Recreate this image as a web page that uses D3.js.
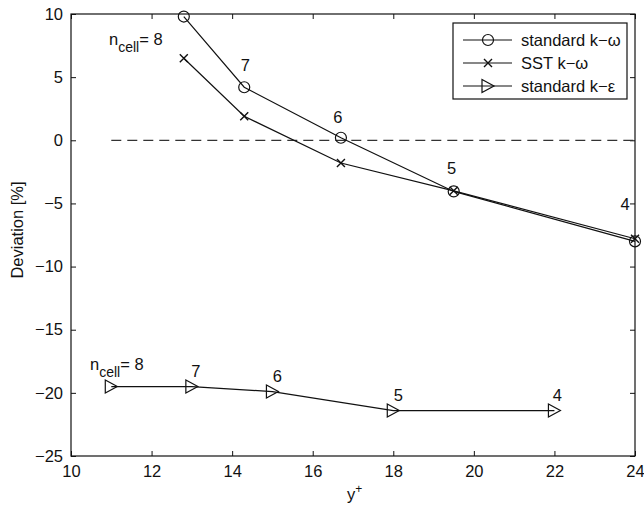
<!DOCTYPE html>
<html>
<head>
<meta charset="utf-8">
<script src="https://cdn.jsdelivr.net/npm/d3@7"></script>
<style>
body { margin: 0; background: #fff; }
text { font-family: "Liberation Sans", Arial, sans-serif; fill: #111; }
</style>
</head>
<body>
<div id="canvas"></div>
<script>
const width = 644;
const height = 509;
const fs = 16.5;

// data
const yPlus = [12.8, 14.3, 16.7, 19.5, 24];
const stdKw = [9.8, 4.2, 0.2, -4.05, -8.0];
const sstKw = [6.5, 1.9, -1.8, -4.0, -7.8];
const yPlusKe = [11, 13, 15, 18, 22];
const stdKe = [-19.5, -19.5, -19.9, -21.4, -21.4];
const nCell = [8, 7, 6, 5, 4];
const xTicks = [10, 12, 14, 16, 18, 20, 22, 24];
const yTicks = [10, 5, 0, -5, -10, -15, -20, -25];
const seriesNames = ['standard k\u2212\u03c9', 'SST k\u2212\u03c9', 'standard k\u2212\u03b5'];

const svg = d3.select('#canvas').append('svg')
  .attr('width', width)
  .attr('height', height)

const x = d3.scaleLinear().domain([10, 24]).range([71, 635]);
const y = d3.scaleLinear().domain([-25, 10]).range([456, 14]);

// frame
svg.append('rect')
  .attr('x', x(10)).attr('y', y(10))
  .attr('width', x(24) - x(10)).attr('height', y(-25) - y(10))
  .attr('fill', 'none').attr('stroke', '#111').attr('stroke-width', 1.2);

// axes with inward ticks
const fmt = d => d < 0 ? '\u2212' + Math.abs(d) : d;
const axB = svg.append('g').attr('transform', `translate(0,${y(-25)})`)
  .call(d3.axisBottom(x).tickValues(xTicks).tickSize(-5).tickPadding(9).tickFormat(fmt));
const axT = svg.append('g').attr('transform', `translate(0,${y(10)})`)
  .call(d3.axisTop(x).tickValues(xTicks).tickSize(-5).tickFormat(''));
const axL = svg.append('g').attr('transform', `translate(${x(10)},0)`)
  .call(d3.axisLeft(y).tickValues(yTicks).tickSize(-5).tickPadding(8).tickFormat(fmt));
const axR = svg.append('g').attr('transform', `translate(${x(24)},0)`)
  .call(d3.axisRight(y).tickValues(yTicks).tickSize(-5).tickFormat(''));

[axB, axT, axL, axR].forEach(g => {
  g.select('.domain').remove();
  g.selectAll('line').attr('stroke', '#111');
  g.selectAll('text').attr('font-size', fs).attr('font-family', '"Liberation Sans", Arial, sans-serif').attr('fill', '#111');
});

// zero reference line
svg.append('line')
  .attr('x1', x(11)).attr('x2', x(24))
  .attr('y1', y(0)).attr('y2', y(0))
  .attr('stroke', '#333').attr('stroke-width', 1.2).attr('stroke-dasharray', '10,6');

const line = d3.line().x(d => x(d[0])).y(d => y(d[1]));
const s1 = yPlus.map((v, i) => [v, stdKw[i]]);
const s2 = yPlus.map((v, i) => [v, sstKw[i]]);
const s3 = yPlusKe.map((v, i) => [v, stdKe[i]]);

[s1, s2, s3].forEach(s => {
  svg.append('path').attr('d', line(s))
    .attr('fill', 'none').attr('stroke', '#111').attr('stroke-width', 1.2);
});

function circleMark(g, cx, cy) {
  g.append('circle').attr('cx', cx).attr('cy', cy).attr('r', 5.5)
    .attr('fill', 'none').attr('stroke', '#111').attr('stroke-width', 1.2);
}
function crossMark(g, cx, cy) {
  const r = 4;
  g.append('path').attr('d', `M${cx - r},${cy - r}L${cx + r},${cy + r}M${cx - r},${cy + r}L${cx + r},${cy - r}`)
    .attr('stroke', '#111').attr('stroke-width', 1.4);
}
function triMark(g, cx, cy) {
  g.append('path').attr('d', `M${cx - 6},${cy - 6.5}L${cx + 6},${cy}L${cx - 6},${cy + 6.5}Z`)
    .attr('fill', 'none').attr('stroke', '#111').attr('stroke-width', 1.2);
}

s1.forEach(d => circleMark(svg, x(d[0]), y(d[1])));
s2.forEach(d => crossMark(svg, x(d[0]), y(d[1])));
s3.forEach(d => triMark(svg, x(d[0]), y(d[1])));

// n_cell labels
function nLabel(px, py, n, withName) {
  const t = svg.append('text').attr('x', px).attr('y', py).attr('font-size', fs)
    .attr('text-anchor', withName ? 'start' : 'middle');
  if (withName) {
    t.append('tspan').text('n');
    t.append('tspan').attr('dy', 7).attr('font-size', 14).text('cell');
    t.append('tspan').attr('dy', -7).text('= ' + n);
  } else {
    t.text(n);
  }
}
nLabel(109, 45, nCell[0], true);
nLabel(x(yPlus[1]) + 1, y(stdKw[1]) - 16, nCell[1]);
nLabel(x(yPlus[2]) - 3, y(stdKw[2]) - 15, nCell[2]);
nLabel(x(yPlus[3]) - 2, y(stdKw[3]) - 17, nCell[3]);
nLabel(x(yPlus[4]) - 10, y(stdKw[4]) - 31, nCell[4]);

nLabel(90, 370, nCell[0], true);
nLabel(x(yPlusKe[1]) + 4, y(stdKe[1]) - 10, nCell[1]);
nLabel(x(yPlusKe[2]) + 5, y(stdKe[2]) - 10, nCell[2]);
nLabel(x(yPlusKe[3]) + 5, y(stdKe[3]) - 10, nCell[3]);
nLabel(x(yPlusKe[4]) + 3, y(stdKe[4]) - 10, nCell[4]);

// legend
const lg = svg.append('g');
lg.append('rect').attr('x', 453).attr('y', 23).attr('width', 174).attr('height', 76)
  .attr('fill', '#fff').attr('stroke', '#111').attr('stroke-width', 1.2);
const marks = [circleMark, crossMark, triMark];
seriesNames.forEach((name, i) => {
  const cy = 40 + i * 23;
  lg.append('line').attr('x1', 463).attr('x2', 512).attr('y1', cy).attr('y2', cy)
    .attr('stroke', '#111').attr('stroke-width', 1.2);
  marks[i](lg, 488, cy);
  lg.append('text').attr('x', 521).attr('y', cy + 6).attr('font-size', fs).text(name);
});

// axis titles
svg.append('text').attr('transform', 'translate(23,230) rotate(-90)')
  .attr('text-anchor', 'middle').attr('font-size', fs).text('Deviation [%]');
const xt = svg.append('text').attr('x', 347).attr('y', 500).attr('font-size', fs);
xt.append('tspan').text('y');
xt.append('tspan').attr('dy', -7).attr('font-size', 12).text('+');
</script>
</body>
</html>
